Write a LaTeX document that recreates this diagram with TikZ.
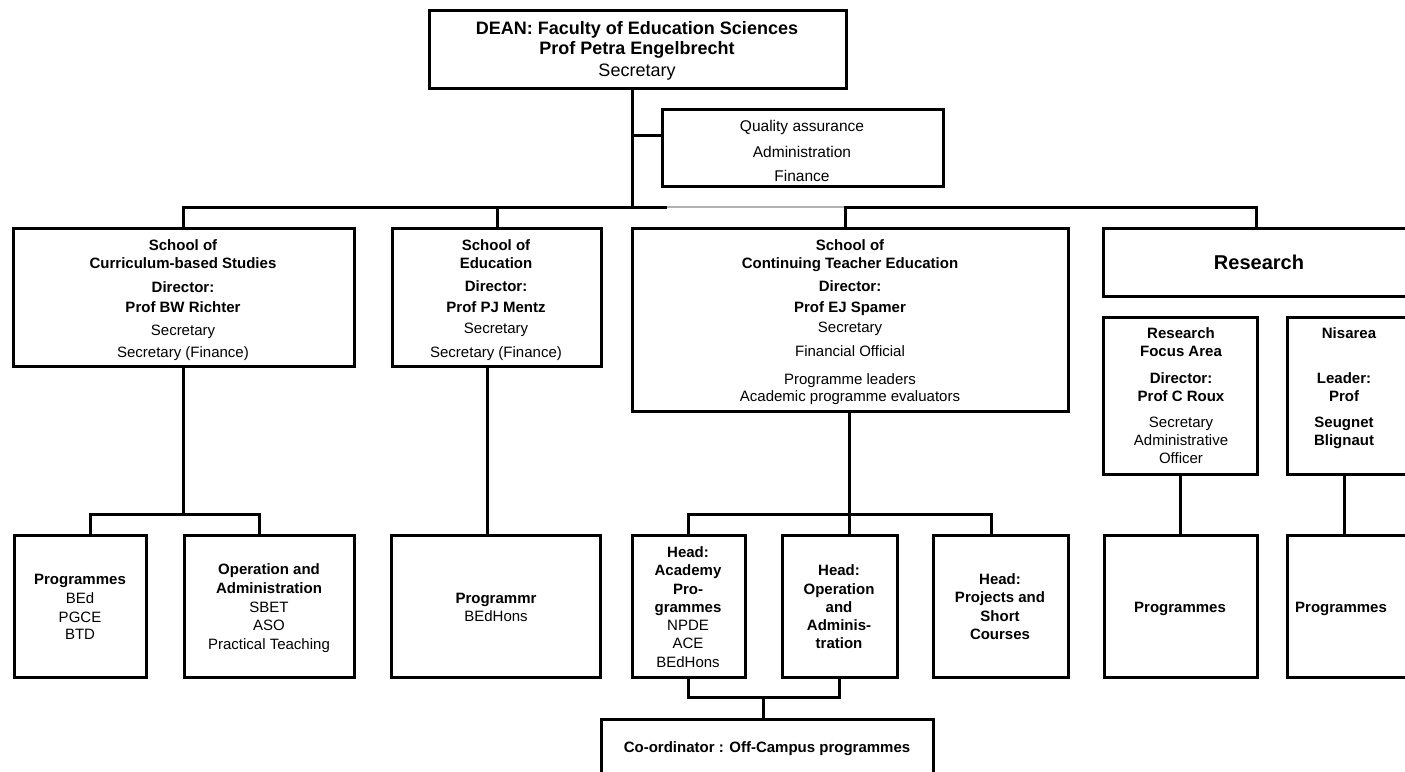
\documentclass[tikz,border=0pt]{standalone}
\usepackage{fontspec}
\setmainfont{Liberation Sans}
\usetikzlibrary{fit}
\newcounter{tln}
\newcommand{\tl}[4]{\stepcounter{tln}\node[#1] (tl\thetln) at (#2,#3) {#4};}
\begin{document}
\begin{tikzpicture}[x=1pt,y=-1pt,
  box/.style={draw, line width=3pt, inner sep=0pt},
  ln/.style={line width=3pt, line cap=rect},
  bt/.style={font=\fontsize{15}{18}\selectfont\bfseries, inner sep=0pt, anchor=base},
  rt/.style={font=\fontsize{15}{18}\selectfont, inner sep=0pt, anchor=base},
  dbt/.style={font=\fontsize{18}{21}\selectfont\bfseries, inner sep=0pt, anchor=base},
  drt/.style={font=\fontsize{18}{21}\selectfont, inner sep=0pt, anchor=base},
  qt/.style={font=\fontsize{15.5}{18}\selectfont, inner sep=0pt, anchor=base},
  big/.style={font=\fontsize{20}{24}\selectfont\bfseries, inner sep=0pt, anchor=base}]
\useasboundingbox (0,0) rectangle (1405,771);
\clip (0,0) rectangle (1405,771);
\fill[white] (0,0) rectangle (1405,771);

% boxes
\node[box, fit={(429,10) (846,88)}] (dean) {};
\node[box, fit={(662,109) (943,186)}] (qa) {};
\node[box, fit={(13,228) (354,366)}] (s1) {};
\node[box, fit={(392,228) (601,366)}] (s2) {};
\node[box, fit={(632,228) (1068,411)}] (s3) {};
\node[box, fit={(1103,228) (1420,296)}] (res) {};
\node[box, fit={(1103,317) (1257,474)}] (rf) {};
\node[box, fit={(1287,317) (1420,474)}] (nis) {};
\node[box, fit={(14,535) (146,677)}] (p1) {};
\node[box, fit={(184,535) (354,677)}] (o1) {};
\node[box, fit={(391,535) (600,677)}] (pr) {};
\node[box, fit={(632,535) (745,677)}] (h1) {};
\node[box, fit={(782,535) (897,677)}] (h2) {};
\node[box, fit={(933,535) (1068,677)}] (h3) {};
\node[box, fit={(1104,535) (1257,677)}] (pg1) {};
\node[box, fit={(1287,535) (1420,677)}] (pg2) {};
\node[box, fit={(601,719) (933,790)}] (co) {};

% junction coordinates
\coordinate (b0) at (632,207);
\coordinate (qj) at (632,135);
\coordinate (bL) at (183,207);
\coordinate (g1) at (665,207);
\coordinate (g2) at (845,207);
\coordinate (bR) at (1256,207);
\coordinate (d2) at (497,207);
\coordinate (j1) at (183,514);
\coordinate (j1L) at (90,514);
\coordinate (j1R) at (259,514);
\coordinate (j2) at (487,450);
\coordinate (j3) at (849,514);
\coordinate (j3L) at (688,514);
\coordinate (j3R) at (991,514);
\coordinate (k) at (763,697);
\coordinate (kL) at (688,697);
\coordinate (kR) at (839,697);
\coordinate (nx) at (1344,500);

% connectors
\draw[ln] (dean.south -| b0) -- (b0);
\draw[ln] (qj) -- (qj -| qa.west);
\draw[line width=2pt, gray!60] (g1) -- (g2);
\draw[ln] (bL) -- (g1);
\draw[ln] (g2) -- (bR);
\draw[ln] (bL) -- (bL |- s1.north);
\draw[ln] (d2) -- (d2 |- s2.north);
\draw[ln] (g2) -- (g2 |- s3.north);
\draw[ln] (bR) -- (bR |- res.north);
\draw[ln] (s1.south -| j1) -- (j1);
\draw[ln] (j1L |- p1.north) -- (j1L) -- (j1R) -- (j1R |- o1.north);
\draw[ln] (s2.south -| j2) -- (j2 |- pr.north);
\draw[ln] (s3.south -| j3) -- (j3 |- h2.north);
\draw[ln] (j3L |- h1.north) -- (j3L) -- (j3R) -- (j3R |- h3.north);
\draw[ln] (h1.south -| kL) -- (kL) -- (kR) -- (h2.south -| kR);
\draw[ln] (k) -- (k |- co.north);
\draw[ln] (rf.south) -- (pg1.north -| rf.south);
\draw[ln] (nis.south -| nx) -- (nx |- pg2.north);

% texts
\tl{dbt}{637}{34}{DEAN: Faculty of Education Sciences}
\tl{dbt}{637}{54}{Prof Petra Engelbrecht}
\tl{drt}{637}{76}{Secretary}
\tl{qt}{802}{131}{Quality assurance}
\tl{qt}{802}{157}{Administration}
\tl{qt}{802}{181}{Finance}

\tl{bt}{183}{250}{School of}
\tl{bt}{183}{268}{Curriculum-based Studies}
\tl{bt}{183}{292}{Director:}
\tl{bt}{183}{312}{Prof BW Richter}
\tl{rt}{183}{335}{Secretary}
\tl{rt}{183}{357}{Secretary (Finance)}

\tl{bt}{496}{250}{School of}
\tl{bt}{496}{268}{Education}
\tl{bt}{496}{291}{Director:}
\tl{bt}{496}{312}{Prof PJ Mentz}
\tl{rt}{496}{333}{Secretary}
\tl{rt}{496}{357}{Secretary (Finance)}

\tl{bt}{850}{250}{School of}
\tl{bt}{850}{268}{Continuing Teacher Education}
\tl{bt}{850}{291}{Director:}
\tl{bt}{850}{312}{Prof EJ Spamer}
\tl{rt}{850}{332}{Secretary}
\tl{rt}{850}{356}{Financial Official}
\tl{rt}{850}{384}{Programme leaders}
\tl{rt}{850}{401}{Academic programme evaluators}

\tl{big}{1259}{269}{Research}

\tl{bt}{1181}{338}{Research}
\tl{bt}{1181}{356}{Focus Area}
\tl{bt}{1181}{383}{Director:}
\tl{bt}{1181}{401}{Prof C Roux}
\tl{rt}{1181}{427}{Secretary}
\tl{rt}{1181}{445}{Administrative}
\tl{rt}{1181}{463}{Officer}

\tl{bt}{1349}{338}{Nisarea}
\tl{bt}{1344}{383}{Leader:}
\tl{bt}{1344}{401}{Prof}
\tl{bt}{1344}{427}{Seugnet}
\tl{bt}{1344}{445}{Blignaut}

\tl{bt}{80}{584}{Programmes}
\tl{rt}{80}{603}{BEd}
\tl{rt}{80}{622}{PGCE}
\tl{rt}{80}{639}{BTD}

\tl{bt}{269}{574}{Operation and}
\tl{bt}{269}{593}{Administration}
\tl{rt}{269}{612}{SBET}
\tl{rt}{269}{630}{ASO}
\tl{rt}{269}{649}{Practical Teaching}

\tl{bt}{496}{603}{Programmr}
\tl{rt}{496}{621}{BEdHons}

\tl{bt}{688}{557}{Head:}
\tl{bt}{688}{575}{Academy}
\tl{bt}{688}{594}{Pro-}
\tl{bt}{688}{612}{grammes}
\tl{rt}{688}{630}{NPDE}
\tl{rt}{688}{648}{ACE}
\tl{rt}{688}{667}{BEdHons}

\tl{bt}{839}{575}{Head:}
\tl{bt}{839}{594}{Operation}
\tl{bt}{839}{612}{and}
\tl{bt}{839}{630}{Adminis-}
\tl{bt}{839}{648}{tration}

\tl{bt}{1000}{584}{Head:}
\tl{bt}{1000}{602}{Projects and}
\tl{bt}{1000}{621}{Short}
\tl{bt}{1000}{639}{Courses}

\tl{bt}{1180}{612}{Programmes}
\tl{bt}{1341}{612}{Programmes}

\tl{bt}{767}{752}{Co-ordinator : Off-Campus programmes}
\end{tikzpicture}
\end{document}
